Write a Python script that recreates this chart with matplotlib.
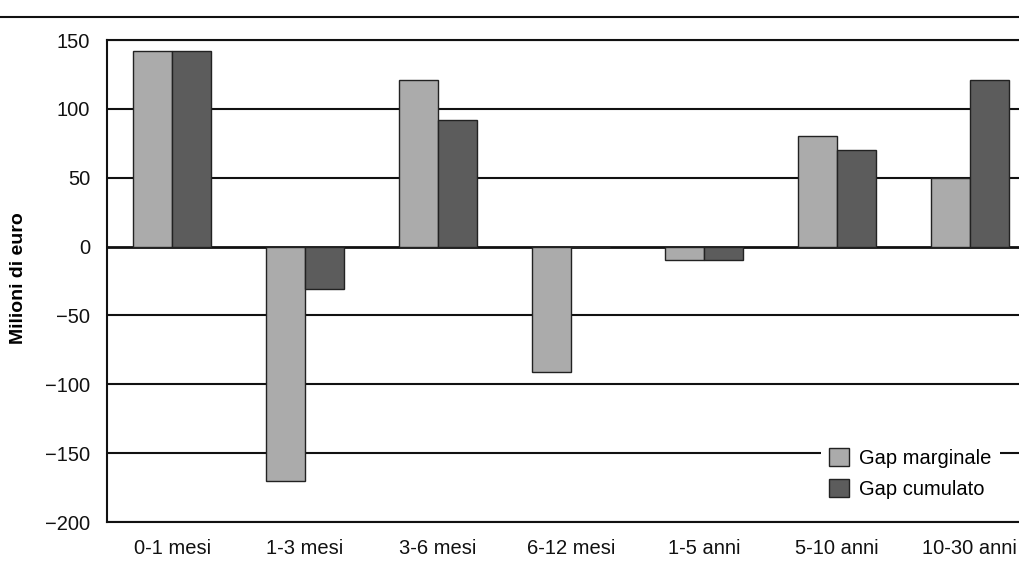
import matplotlib
matplotlib.use("Agg")
import matplotlib.pyplot as plt
from matplotlib.lines import Line2D
import numpy as np

categories = ["0-1 mesi", "1-3 mesi", "3-6 mesi", "6-12 mesi", "1-5 anni", "5-10 anni", "10-30 anni"]
gap_marginale = [142, -170, 121, -91, -10, 80, 50]
gap_cumulato = [142, -31, 92, 0, -10, 70, 121]
yticks = [-200, -150, -100, -50, 0, 50, 100, 150]

plt.rcParams['font.family'] = ['Liberation Sans Narrow', 'Liberation Sans', 'DejaVu Sans']

W, H = 1019, 570
fig = plt.figure(figsize=(W/100, H/100), dpi=100)
ax = fig.add_axes([107/W, 1 - 522/H, (W - 107)/W, (522 - 40)/H])

x = np.arange(len(categories))
bw = 0.293
ax.bar(x - bw/2, gap_marginale, bw, color="#ababab", edgecolor="#222222", linewidth=1.0,
       label="Gap marginale", zorder=3)
ax.bar(x + bw/2, gap_cumulato, bw, color="#5c5c5c", edgecolor="#222222", linewidth=1.0,
       label="Gap cumulato", zorder=3)

ax.set_ylim(-200, 150)
ax.set_xlim(-0.49, 6.37)
ax.set_yticks(yticks)
ax.set_yticklabels([str(t).replace("-", "\u2212") for t in yticks])
ax.set_xticks(x)
ax.set_xticklabels(categories)
ax.tick_params(axis='both', length=0, labelsize=14.5, colors="#111111")
ax.tick_params(axis='y', pad=12)
ax.tick_params(axis='x', pad=12)

for t in yticks:
    ax.axhline(t, color="#111111", linewidth=1.5 if t != 0 else 2.0, zorder=1)

for s in ["left", "bottom", "top"]:
    ax.spines[s].set_color("#111111")
    ax.spines[s].set_linewidth(1.5)
ax.spines["right"].set_visible(False)

ax.set_ylabel("Milioni di euro", fontsize=14, fontweight="bold")
ax.yaxis.set_label_coords(-80 / (W - 107), (522 - 278) / (522 - 40))

leg = ax.legend(loc="lower right", bbox_to_anchor=(0.99, 0.01), frameon=True, fontsize=14.5,
                handlelength=1.0, handleheight=1.0, handletextpad=0.5, labelspacing=0.55,
                borderpad=0.4, fancybox=False)
leg.get_frame().set_facecolor("white")
leg.get_frame().set_edgecolor("none")
leg.get_frame().set_alpha(1)
leg.set_zorder(5)

fig.add_artist(Line2D([0, 1], [1 - 17/H, 1 - 17/H], color="#111111", linewidth=1.5,
                      transform=fig.transFigure))

fig.savefig("out.png", dpi=100, facecolor="white")
